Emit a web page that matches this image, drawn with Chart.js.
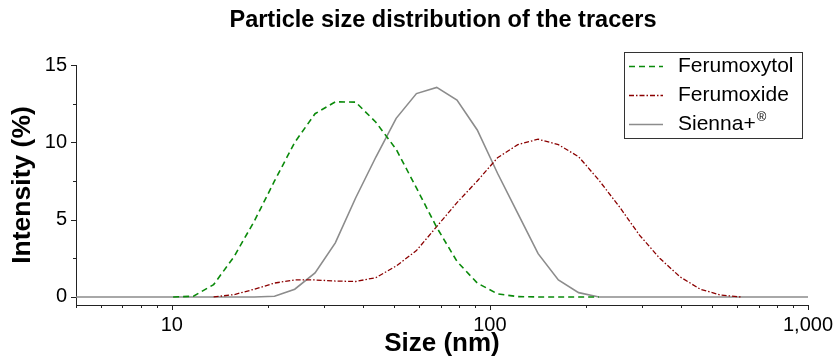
<!DOCTYPE html>
<html>
<head>
<meta charset="utf-8">
<title>Particle size distribution of the tracers</title>
<script src="https://cdn.jsdelivr.net/npm/chart.js@4.4.1/dist/chart.umd.min.js"></script>
<style>
  html, body { margin: 0; padding: 0; background: #fff; }
  #wrap { width: 836px; height: 360px; }
</style>
</head>
<body>
<div id="wrap"><canvas id="psdChart" width="836" height="360"></canvas></div>
<script>
// Size bins (nm), log spaced like the DLS instrument output
const sizes = [4.849, 5.615, 6.503, 7.531, 8.721, 10.1, 11.7, 13.54, 15.69, 18.17,
               21.04, 24.36, 28.21, 32.67, 37.84, 43.82, 50.75, 58.77, 68.06, 78.82,
               91.28, 105.7, 122.4, 141.8, 164.2, 190.1, 220.2, 255.0, 295.3, 342.0,
               396.1, 458.7, 531.2, 615.1, 712.4, 825.0, 955.4, 1106];

// Intensity (%) per bin, null = not plotted
const ferumoxytol = [null, null, null, null, null, 0, 0.05, 0.8, 2.6, 4.9,
                     7.5, 10.0, 11.85, 12.62, 12.6, 11.3, 9.55, 7.05, 4.5, 2.3,
                     0.9, 0.2, 0.02, 0, 0, 0, 0, null, null, null,
                     null, null, null, null, null, null, null, null];
const ferumoxide = [null, null, null, null, null, null, null, 0, 0.15, 0.5,
                    0.9, 1.1, 1.1, 1.03, 1.0, 1.25, 2.0, 3.0, 4.55, 6.1,
                    7.5, 9.0, 9.85, 10.2, 9.85, 9.07, 7.55, 5.85, 4.0, 2.5,
                    1.3, 0.5, 0.12, 0, null, null, null, null];
const sienna = [0, 0, 0, 0, 0, 0, 0, 0, 0, 0,
                0.05, 0.5, 1.55, 3.5, 6.4, 9.05, 11.55, 13.15, 13.55, 12.73,
                10.8, 8.0, 5.4, 2.8, 1.1, 0.28, 0, 0, 0, 0,
                0, 0, 0, 0, 0, 0, 0, 0];

const seriesLabels = ['Ferumoxytol', 'Ferumoxide', 'Sienna+®'];

// tick labels / tick marks
const xTicks = [10, 100, 1000];
const xMinorTicks = [5, 6, 7, 8, 9, 20, 30, 40, 50, 60, 70, 80, 90, 200, 300, 400, 500, 600, 700, 800, 900];
const yTicks = [0, 5, 10, 15];
const yMinorTicks = [2.5, 7.5, 12.5];

const FONT = "'Liberation Sans', Arial, Helvetica, sans-serif";
const AXIS_COLOR = '#222';

function toPoints(values) {
    return sizes.map((s, i) => ({ x: s, y: values[i] }));
}

// tick marks, title and boxed legend
const decorations = {
    id: 'decorations',
    afterDraw(chart) {
        const { ctx, chartArea } = chart;
        const xs = chart.scales.x, ys = chart.scales.y;
        ctx.save();

        // tick marks (outside)
        ctx.strokeStyle = AXIS_COLOR;
        ctx.lineWidth = 1;
        ctx.setLineDash([]);
        ctx.beginPath();
        const bx = chartArea.bottom;
        xTicks.forEach(v => {
            const px = Math.round(xs.getPixelForValue(v)) + 0.5;
            ctx.moveTo(px, bx); ctx.lineTo(px, bx + 5);
        });
        xMinorTicks.forEach(v => {
            const px = Math.round(xs.getPixelForValue(v)) + 0.5;
            ctx.moveTo(px, bx); ctx.lineTo(px, bx + 3);
        });
        const lx = chartArea.left;
        yTicks.forEach(v => {
            const py = Math.round(ys.getPixelForValue(v)) + 0.5;
            ctx.moveTo(lx, py); ctx.lineTo(lx - 5, py);
        });
        yMinorTicks.forEach(v => {
            const py = Math.round(ys.getPixelForValue(v)) + 0.5;
            ctx.moveTo(lx, py); ctx.lineTo(lx - 3, py);
        });
        ctx.stroke();

        // title
        ctx.fillStyle = '#000';
        ctx.font = 'bold 23.5px ' + FONT;
        ctx.textAlign = 'center';
        ctx.textBaseline = 'middle';
        ctx.fillText('Particle size distribution of the tracers', (chartArea.left + chartArea.right) / 2 + 1, 21);

        // legend box
        const box = { left: 624.5, top: 52.5, right: 802.5, bottom: 138.5 };
        ctx.strokeStyle = '#333';
        ctx.lineWidth = 1;
        ctx.strokeRect(box.left, box.top, box.right - box.left, box.bottom - box.top);

        chart.data.datasets.forEach((ds, i) => {
            const rowY = 66 + i * 29;
            ctx.save();
            ctx.strokeStyle = ds.borderColor;
            ctx.lineWidth = ds.borderWidth;
            ctx.setLineDash(ds.borderDash || []);
            ctx.beginPath();
            ctx.moveTo(629, rowY + 0.5);
            ctx.lineTo(663, rowY + 0.5);
            ctx.stroke();
            ctx.restore();

            ctx.fillStyle = '#000';
            ctx.textAlign = 'left';
            ctx.textBaseline = 'middle';
            ctx.font = '21px ' + FONT;
            let text = ds.label;
            let sup = '';
            if (text.endsWith('®')) {
                sup = '®';
                text = text.slice(0, -1);
            }
            ctx.fillText(text, 678, rowY);
            if (sup) {
                const w = ctx.measureText(text).width;
                ctx.font = '13px ' + FONT;
                ctx.fillText(sup, 678 + w + 1, rowY - 7);
            }
        });

        ctx.restore();
    }
};

const data = {
    datasets: [
        {
            label: seriesLabels[0],
            data: toPoints(ferumoxytol),
            borderColor: '#0a8a0a',
            borderWidth: 1.6,
            borderDash: [6, 4]
        },
        {
            label: seriesLabels[1],
            data: toPoints(ferumoxide),
            borderColor: '#8b0000',
            borderWidth: 1.3,
            borderDash: [5, 2, 1.5, 2]
        },
        {
            label: seriesLabels[2],
            data: toPoints(sienna),
            borderColor: '#8c8c8c',
            borderWidth: 1.6,
            borderDash: []
        }
    ]
};

const config = {
    type: 'line',
    data: data,
    options: {
        responsive: false,
        animation: false,
        devicePixelRatio: 1,
        layout: { padding: { top: 65, right: 23, bottom: 0, left: 0 } },
        elements: {
            point: { radius: 0 },
            line: { tension: 0, fill: false }
        },
        plugins: {
            legend: { display: false },
            title: { display: false },
            tooltip: { enabled: false }
        },
        scales: {
            x: {
                type: 'logarithmic',
                min: 5,
                max: 1000,
                afterFit(scale) { scale.height = 55; },
                afterBuildTicks(scale) { scale.ticks = xTicks.map(v => ({ value: v, major: true })); },
                border: { display: true, color: AXIS_COLOR, width: 1 },
                grid: { display: true, drawOnChartArea: false, drawTicks: true, tickLength: 5, color: 'transparent', tickColor: 'transparent' },
                ticks: {
                    autoSkip: false,
                    maxRotation: 0,
                    padding: 3,
                    color: '#000',
                    font: { family: FONT, size: 20 },
                    callback: v => Number(v).toLocaleString('en-US')
                },
                title: {
                    display: true,
                    text: 'Size (nm)',
                    color: '#000',
                    font: { family: FONT, size: 26, weight: 'bold', lineHeight: 1.2 },
                    padding: { top: 0, bottom: 1 }
                }
            },
            y: {
                type: 'linear',
                min: -0.52,
                max: 15,
                afterFit(scale) { scale.width = 76; },
                afterBuildTicks(scale) { scale.ticks = yTicks.map(v => ({ value: v })); },
                border: { display: true, color: AXIS_COLOR, width: 1 },
                grid: { display: true, drawOnChartArea: false, drawTicks: true, tickLength: 5, color: 'transparent', tickColor: 'transparent' },
                ticks: {
                    padding: 4,
                    color: '#000',
                    font: { family: FONT, size: 20 },
                    callback: v => String(v)
                },
                title: {
                    display: true,
                    text: 'Intensity (%)',
                    color: '#000',
                    font: { family: FONT, size: 26.5, weight: 'bold', lineHeight: 1.2 },
                    padding: { top: 7, bottom: 0 }
                }
            }
        }
    },
    plugins: [decorations]
};

document.addEventListener('DOMContentLoaded', function() {
    const ctx = document.getElementById('psdChart');
    if (ctx) {
        new Chart(ctx, config);
    }
});
</script>
</body>
</html>
